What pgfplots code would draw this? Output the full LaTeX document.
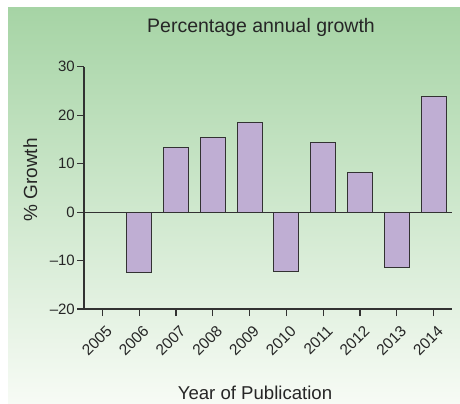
\documentclass[border=0pt]{standalone}
\usepackage{pgfplots}
\pgfplotsset{compat=1.18}
\usepackage{fontspec}
\setmainfont{Liberation Sans}

\definecolor{bgtop}{RGB}{166,212,165}
\definecolor{bgmid}{RGB}{204,232,201}
\definecolor{bgbot}{RGB}{247,251,245}
\definecolor{barfill}{RGB}{191,174,211}
\definecolor{baredge}{RGB}{50,50,50}

\begin{document}
\begin{tikzpicture}
  \path[use as bounding box] (0,0) rectangle (460bp,404bp);
  \shade[top color=bgtop, middle color=bgmid, bottom color=bgbot]
    (8bp,0) rectangle (460bp,396bp);
  \begin{axis}[
    at={(84bp,95bp)}, anchor=south west,
    scale only axis,
    width=368bp, height=242.3bp,
    xmin=2004.5, xmax=2014.5,
    ymin=-20, ymax=30,
    axis lines=left,
    axis line style={-, baredge, line width=1.1bp},
    tick style={baredge, line width=1.1bp},
    tick align=outside,
    major tick length=7bp,
    ytick={-20,-10,0,10,20,30},
    yticklabels={\textendash20,\textendash10,0,10,20,30},
    xtick={2005,...,2014},
    xticklabels={2005,2006,2007,2008,2009,2010,2011,2012,2013,2014},
    ticklabel style={font=\fontsize{15bp}{18bp}\selectfont, text=black!85},
    xticklabel style={font=\fontsize{15.5bp}{18bp}\selectfont, rotate=45,
      anchor=north east, inner sep=1bp, yshift=-7bp, xshift=-3bp},
    yticklabel style={inner sep=2bp},
    title={Percentage annual growth},
    title style={font=\fontsize{19.5bp}{23bp}\selectfont, text=black!85,
      at={(axis description cs:0.481,1.117)}, anchor=base},
    xlabel={Year of Publication},
    xlabel style={font=\fontsize{18.6bp}{22bp}\selectfont, text=black!85,
      at={(axis description cs:0.4647,-0.3727)}, anchor=base},
    ylabel={\% Growth},
    ylabel style={font=\fontsize{19bp}{22bp}\selectfont, text=black!85,
      at={(axis description cs:-0.1277,0.532)}, anchor=base, rotate=0},
    clip=false,
  ]
    \addplot[ybar, bar width=25bp, fill=barfill, draw=baredge, line width=1.1bp]
      coordinates {(2006,-12.5) (2007,13.3) (2008,15.3) (2009,18.4)
                   (2010,-12.2) (2011,14.4) (2012,8.1) (2013,-11.5) (2014,23.8)};
    \addplot[baredge, line width=1.1bp] coordinates {(2004.5,0) (2014.5,0)};
  \end{axis}
\end{tikzpicture}
\end{document}
